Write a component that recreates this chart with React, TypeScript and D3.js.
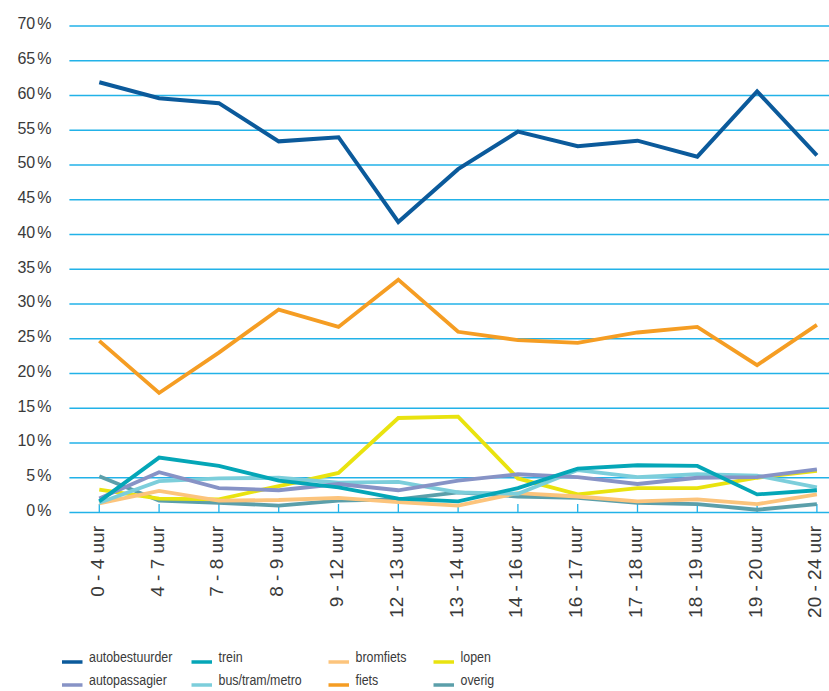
import React from "react";
import * as d3 from "d3";

const categories = ["0 - 4 uur", "4 - 7 uur", "7 - 8 uur", "8 - 9 uur", "9 - 12 uur", "12 - 13 uur", "13 - 14 uur", "14 - 16 uur", "16 - 17 uur", "17 - 18 uur", "18 - 19 uur", "19 - 20 uur", "20 - 24 uur"];

const autobestuurder = [61.9, 59.6, 58.9, 53.4, 54.0, 41.8, 49.4, 54.8, 52.7, 53.5, 51.2, 60.6, 51.4];
const autopassagier = [2.0, 5.8, 3.5, 3.2, 4.1, 3.2, 4.6, 5.5, 5.1, 4.1, 5.0, 5.1, 6.2];
const trein = [1.6, 7.9, 6.7, 4.6, 3.6, 2.0, 1.6, 3.5, 6.3, 6.8, 6.7, 2.6, 3.2];
const busTramMetro = [1.4, 4.5, 4.9, 5.0, 4.3, 4.4, 2.9, 2.7, 6.1, 5.1, 5.5, 5.3, 3.6];
const bromfiets = [1.3, 3.1, 1.7, 1.8, 2.1, 1.5, 1.0, 2.8, 2.3, 1.6, 1.9, 1.2, 2.6];
const fiets = [24.7, 17.2, 23.0, 29.2, 26.7, 33.5, 26.0, 24.8, 24.4, 25.9, 26.7, 21.2, 27.0];
const lopen = [3.3, 2.0, 1.9, 3.8, 5.7, 13.6, 13.8, 4.9, 2.6, 3.5, 3.5, 5.0, 6.0];
const overig = [5.2, 1.7, 1.4, 1.0, 1.7, 1.9, 2.9, 2.3, 2.1, 1.4, 1.2, 0.4, 1.2];

const yTicks = [0, 5, 10, 15, 20, 25, 30, 35, 40, 45, 50, 55, 60, 65, 70];

const seriesNames = ["autobestuurder", "autopassagier", "trein", "bus/tram/metro", "bromfiets", "fiets", "lopen", "overig"];
const seriesValues = [autobestuurder, autopassagier, trein, busTramMetro, bromfiets, fiets, lopen, overig];
const seriesColors = ["#0b5a9b", "#8793c6", "#04a6b7", "#7ccedb", "#fcc47c", "#f59d23", "#e9e30f", "#5b9faa"];
// drawing order (bottom to top)
const drawOrder = [7, 6, 4, 5, 3, 1, 2, 0];

const W = 829;
const H = 691;
const plotLeft = 69.4;
const step = 59.8;
const plotRight = plotLeft + step * categories.length;
const yTop = 26;
const yBottom = 512.5;

export default function App() {
  const x = d3.scaleBand<string>().domain(categories).range([plotLeft, plotRight]).padding(0);
  const cx = (c: string) => (x(c) as number) + x.bandwidth() / 2;
  const y = d3.scaleLinear().domain([0, 70]).range([yBottom, yTop]);
  const line = d3
    .line<number>()
    .x((_, i) => cx(categories[i]))
    .y((d) => y(d));

  const legendCols = [62, 191.5, 328.5, 433.5];
  const legendRows = [662, 685];

  return (
    <svg width={W} height={H} style={{ position: "absolute", left: 0, top: 0, background: "#fff" }}>
      {yTicks.map((t) => (
        <g key={t}>
          {t > 0 && (
            <line x1={plotLeft} x2={plotRight} y1={y(t)} y2={y(t)} stroke="#22b2e8" strokeWidth={1.3} />
          )}
          <text
            x={51.5}
            y={y(t) + 3.4}
            textAnchor="end"
            fontFamily="'Liberation Sans', Arial, sans-serif"
            fontSize={16}
            fill="#3a3a3a"
          >
            {t}
            <tspan dx={2}>%</tspan>
          </text>
        </g>
      ))}
      <line x1={plotLeft} x2={plotRight} y1={yBottom} y2={yBottom} stroke="#22b2e8" strokeWidth={1.6} />
      {categories.map((c) => (
        <g key={c}>
          <line x1={cx(c)} x2={cx(c)} y1={yBottom - 8.5} y2={yBottom} stroke="#22b2e8" strokeWidth={1.3} />
          <text
            transform={`translate(${cx(c) + 4.5},526) rotate(-90)`}
            textAnchor="end"
            fontFamily="'Liberation Sans', Arial, sans-serif"
            fontSize={19}
            fill="#3a3a3a"
          >
            {c}
          </text>
        </g>
      ))}
      {drawOrder.map((si) => (
        <path
          key={seriesNames[si]}
          d={line(seriesValues[si]) || ""}
          fill="none"
          stroke={seriesColors[si]}
          strokeWidth={si === 0 ? 4 : 3.8}
          strokeLinejoin="miter"
        />
      ))}
      {seriesNames.map((n, i) => {
        const col = Math.floor(i / 2);
        const row = i % 2;
        const lx = legendCols[col];
        const ly = legendRows[row];
        return (
          <g key={n}>
            <line x1={lx} x2={lx + 20.5} y1={ly} y2={ly} stroke={seriesColors[i]} strokeWidth={3.5} />
            <text
              transform={`translate(${lx + 27},${ly}) scale(0.8,1)`}
              fontFamily="'Liberation Sans', sans-serif"
              fontSize={15.5}
              fill="#3a3a3a"
            >
              {n}
            </text>
          </g>
        );
      })}
    </svg>
  );
}
